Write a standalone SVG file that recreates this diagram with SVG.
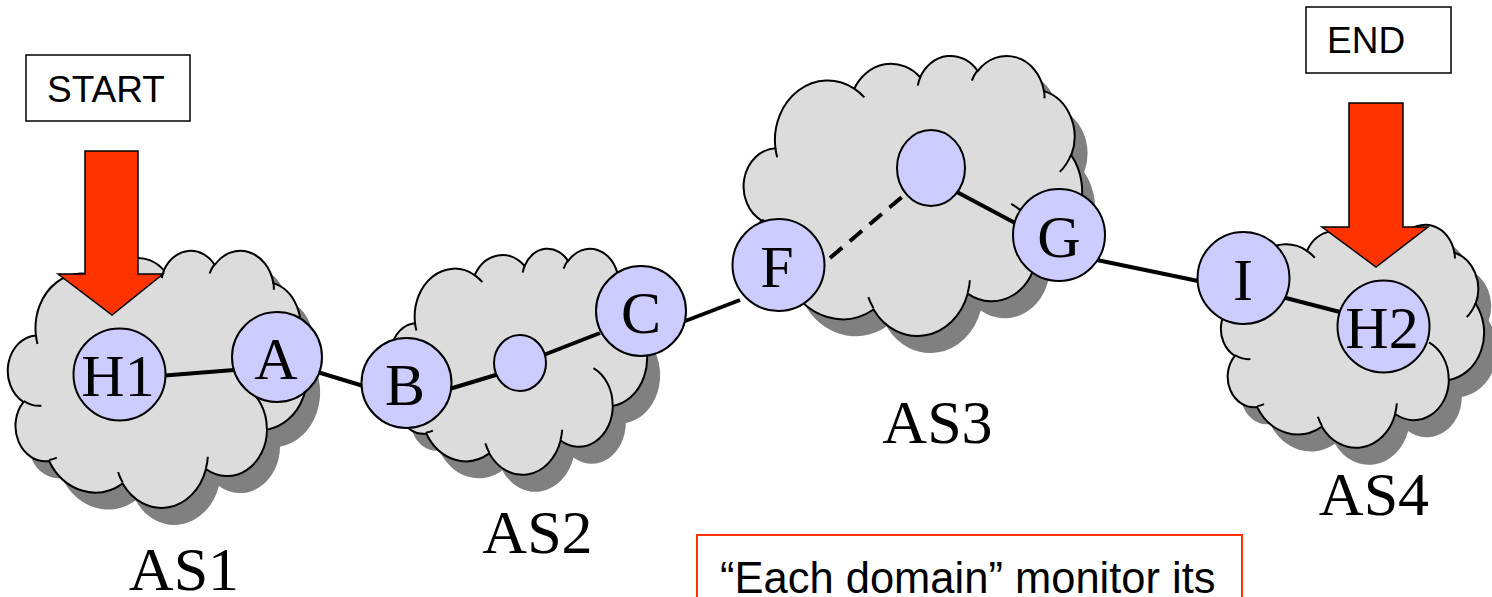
<svg xmlns="http://www.w3.org/2000/svg" xmlns:xlink="http://www.w3.org/1999/xlink" width="1492" height="597" viewBox="0 0 1492 597">
<style>
.shadow{fill:#808080;stroke:none}
.cloud{fill:#DCDCDC;stroke:#000;stroke-width:2}
.inner{fill:none;stroke:#000;stroke-width:2}
.node circle,.node ellipse{fill:#CCCCFF;stroke:#000;stroke-width:2}
.lbl{font-family:"Liberation Serif","Times New Roman",serif;font-size:60px;fill:#000;text-anchor:middle}
.as{font-family:"Liberation Serif","Times New Roman",serif;font-size:62px;fill:#000;text-anchor:middle}
.box{fill:#fff;stroke:#000;stroke-width:1.5}
.btxt{font-family:"Liberation Sans",Arial,sans-serif;font-size:37px;fill:#000}
.arrow{fill:#FF3300;stroke:#000;stroke-width:1.5}
.edge{stroke:#000;stroke-width:4;fill:none}
.dash{stroke-dasharray:16 10}
</style>
<defs>
<path id="cloud" vector-effect="non-scaling-stroke" d="M3900,14370 A6753,9190 0 0 1 14004,5201 A5333,7267 0 0 1 22455,3431 A4365,5945 0 0 1 29832,2478 A4857,6595 0 0 1 38317,5572 A5333,7273 0 0 1 41817,15458 A6775,9220 0 0 1 37402,30201 A5785,7867 0 0 1 28553,36811 A6752,9215 0 0 1 16478,39264 A7720,10543 0 0 1 5803,35470 A4360,5918 0 0 1 2113,25547 A4345,5945 0 0 1 3900,14370 Z"/>
<path id="cloudIn" vector-effect="non-scaling-stroke" d="M4693,26177 A4345,5945 0 0 1 2159,25380 M6928,34899 A4360,5918 0 0 1 5819,35281 M16478,39090 A6752,9215 0 0 1 15810,37349 M28827,34751 A6752,9215 0 0 1 28560,36660 M34129,22954 A5785,7867 0 0 1 37378,30088 M41798,15354 A5333,7273 0 0 1 40349,18030 M38324,5426 A4857,6595 0 0 1 38401,6689 M29078,3952 A4857,6595 0 0 1 29820,2340 M22141,4720 A4365,5945 0 0 1 22500,3332 M14000,5192 A6753,9190 0 0 1 15301,6542 M4127,15789 A6753,9190 0 0 1 3901,14370"/>
</defs>

<g id="AS1">
<use href="#cloud" class="shadow" transform="translate(22,267) scale(0.006898,0.005949)"/>
<use href="#cloud" class="cloud" transform="translate(9,250) scale(0.006898,0.005949)"/>
<use href="#cloudIn" class="inner" transform="translate(9,250) scale(0.006898,0.005949)"/>
<text class="as" x="184" y="590">AS1</text>
</g>
<g id="AS2">
<use href="#cloud" class="shadow" transform="translate(405,265) scale(0.005903,0.005231)"/>
<use href="#cloud" class="cloud" transform="translate(392,248) scale(0.005903,0.005231)"/>
<use href="#cloudIn" class="inner" transform="translate(392,248) scale(0.005903,0.005231)"/>
<text class="as" x="537.5" y="553">AS2</text>
</g>
<g id="AS3">
<use href="#cloud" class="shadow" transform="translate(758,72) scale(0.007801,0.006481)"/>
<use href="#cloud" class="cloud" transform="translate(745,55) scale(0.007801,0.006481)"/>
<use href="#cloudIn" class="inner" transform="translate(745,55) scale(0.007801,0.006481)"/>
<text class="as" x="937.5" y="443">AS3</text>
</g>
<g id="AS4">
<use href="#cloud" class="shadow" transform="translate(1235,241) scale(0.006065,0.005162)"/>
<use href="#cloud" class="cloud" transform="translate(1222,224) scale(0.006065,0.005162)"/>
<use href="#cloudIn" class="inner" transform="translate(1222,224) scale(0.006065,0.005162)"/>
<text class="as" x="1374" y="515">AS4</text>
</g>

<g id="connectors">
<line class="edge" x1="165" y1="375.5" x2="234" y2="370"/>
<line class="edge" x1="314" y1="371" x2="370" y2="388"/>
<line class="edge" x1="446" y1="390" x2="499" y2="374"/>
<line class="edge" x1="541" y1="356" x2="600" y2="333"/>
<line class="edge" x1="680" y1="323" x2="740" y2="300"/>
<line class="edge dash" x1="830" y1="258" x2="903" y2="196"/>
<line class="edge" x1="955" y1="191" x2="1017" y2="224"/>
<line class="edge" x1="1097" y1="260" x2="1203" y2="282"/>
<line class="edge" x1="1282" y1="297" x2="1340" y2="312"/>
</g>

<g id="H1" class="node"><circle cx="119.5" cy="374.5" r="46"/><text class="lbl" x="118" y="396">H1</text></g>
<g id="A" class="node"><circle cx="277" cy="357" r="45"/><text class="lbl" x="276" y="379">A</text></g>
<g id="B" class="node"><circle cx="406.5" cy="383" r="45"/><text class="lbl" x="405" y="405">B</text></g>
<g id="n2" class="node"><ellipse cx="520" cy="363" rx="26" ry="28"/></g>
<g id="C" class="node"><circle cx="641" cy="311" r="45"/><text class="lbl" x="641" y="333">C</text></g>
<g id="F" class="node"><circle cx="778.5" cy="265" r="46"/><text class="lbl" x="777" y="287">F</text></g>
<g id="n3" class="node"><ellipse cx="931" cy="168" rx="34" ry="38"/></g>
<g id="G" class="node"><circle cx="1059" cy="235" r="46"/><text class="lbl" x="1059" y="257">G</text></g>
<g id="I" class="node"><circle cx="1243.5" cy="278" r="46"/><text class="lbl" x="1243" y="300">I</text></g>
<g id="H2" class="node"><circle cx="1383.5" cy="326.5" r="46"/><text class="lbl" x="1382" y="348">H2</text></g>

<g id="START">
<rect class="box" x="26" y="55" width="164" height="66"/>
<text class="btxt" x="47" y="102">START</text>
<polygon class="arrow" points="85,151 138,151 138,274 163,274 112,315 58,274 85,274"/>
</g>
<g id="END">
<rect class="box" x="1306" y="7" width="145" height="66"/>
<text class="btxt" x="1327" y="53">END</text>
<polygon class="arrow" points="1349,103 1403,103 1403,227 1428,227 1376,267 1322,227 1349,227"/>
</g>

<g id="note">
<rect x="697" y="535" width="545" height="90" fill="#fff" stroke="#FF3300" stroke-width="2"/>
<text x="720" y="593" font-family="'Liberation Sans',Arial,sans-serif" font-size="43.5" fill="#000">“Each domain” monitor its</text>
</g>
</svg>
